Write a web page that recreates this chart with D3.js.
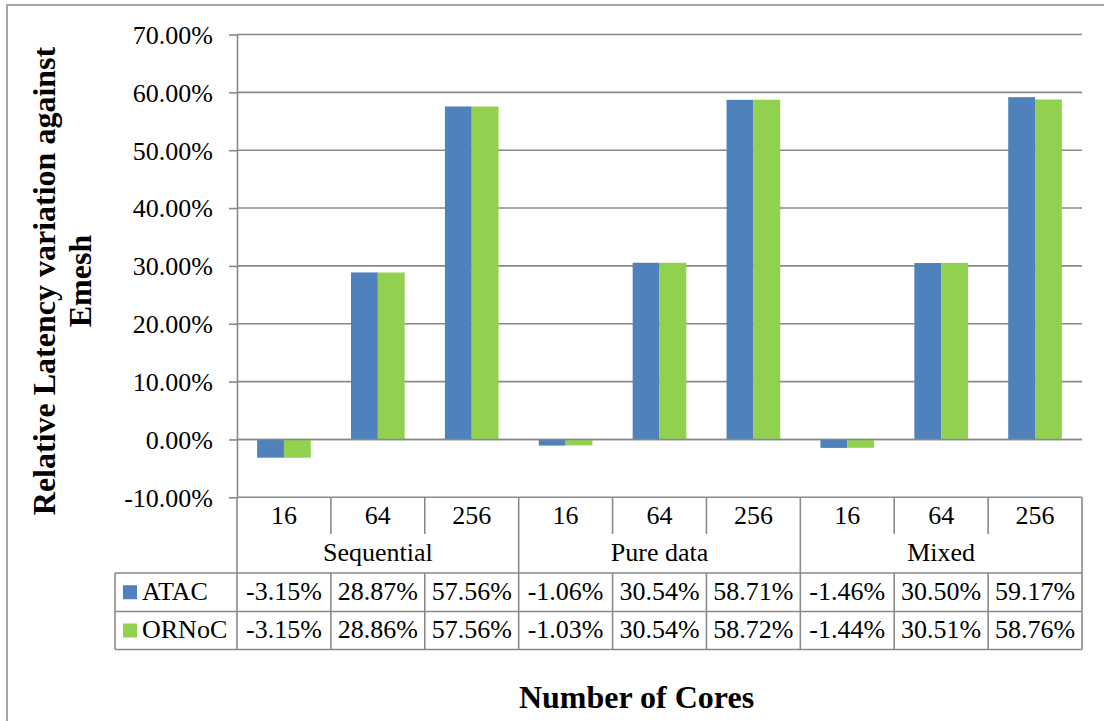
<!DOCTYPE html>
<html>
<head>
<meta charset="utf-8">
<script src="https://cdn.jsdelivr.net/npm/d3@7"></script>
<style>
  html, body { margin: 0; padding: 0; background: #fff; }
  svg { display: block; }
  text { font-family: "Liberation Serif", "Times New Roman", serif; fill: #000; }
</style>
</head>
<body>
<svg id="chart" width="1104" height="721"></svg>
<script>
// Workload groups and core counts along the category axis
const groups = ["Sequential", "Pure data", "Mixed"];
const cores = ["16", "64", "256"];
const seriesNames = ["ATAC", "ORNoC"];
const seriesColors = ["#4F81BD", "#92D050"];

// Relative latency variation against Emesh (%), one value per group/core pair
const atacValues  = [-3.15, 28.87, 57.56, -1.06, 30.54, 58.71, -1.46, 30.50, 59.17];
const ornocValues = [-3.15, 28.86, 57.56, -1.03, 30.54, 58.72, -1.44, 30.51, 58.76];

// Value-axis ticks
const yTicks = [-10, 0, 10, 20, 30, 40, 50, 60, 70];

const svg = d3.select("#chart");
const gridColor = "#898989";
const lineW = 1.6;

// Plot frame
const plotLeft = 237, plotRight = 1082, plotTop = 34.5, plotBottom = 497.3;
const tableLeft = 115;
const rowLines = [573, 611.5, 649.5];

// Category keys: one band per group/core combination
const keys = [];
groups.forEach((g, gi) => cores.forEach((c, ci) => keys.push({ key: g + "|" + c, group: g, core: c, idx: gi * 3 + ci })));
const values = [atacValues, ornocValues];

const x = d3.scaleBand().domain(keys.map(d => d.key)).range([plotLeft, plotRight]).paddingInner(0).paddingOuter(0);
const xs = d3.scaleBand().domain(seriesNames).range([0, x.bandwidth()]).paddingInner(0).paddingOuter(0.75);
const y = d3.scaleLinear().domain([-10, 70]).range([plotBottom, plotTop]);

// Outer chart border
svg.append("rect")
  .attr("x", 7).attr("y", 5).attr("width", 1110).attr("height", 730)
  .attr("fill", "none").attr("stroke", gridColor).attr("stroke-width", 1.5);

// Horizontal gridlines
svg.append("g").selectAll("line").data(yTicks).join("line")
  .attr("x1", plotLeft).attr("x2", plotRight)
  .attr("y1", d => y(d)).attr("y2", d => y(d))
  .attr("stroke", gridColor).attr("stroke-width", lineW);

// Value axis
const yAxis = d3.axisLeft(y)
  .tickValues(yTicks)
  .tickFormat(d => d.toFixed(2) + "%")
  .tickSizeInner(8).tickSizeOuter(0).tickPadding(16);
const yg = svg.append("g").attr("transform", `translate(${plotLeft},0)`).call(yAxis);
yg.attr("font-family", "Liberation Serif");
yg.select(".domain").attr("stroke", gridColor).attr("stroke-width", lineW);
yg.selectAll(".tick line").attr("stroke", gridColor).attr("stroke-width", lineW);
yg.selectAll(".tick text")
  .attr("font-size", 26).attr("fill", "#000").attr("dy", "0.34em");

// Bars
const barG = svg.append("g");
seriesNames.forEach((s, si) => {
  barG.append("g").selectAll("rect").data(keys).join("rect")
    .attr("x", d => x(d.key) + xs(s))
    .attr("width", xs.bandwidth())
    .attr("y", d => y(Math.max(0, values[si][d.idx])))
    .attr("height", d => Math.abs(y(values[si][d.idx]) - y(0)))
    .attr("fill", seriesColors[si]);
});

// Zero line over the bars
svg.append("line")
  .attr("x1", plotLeft).attr("x2", plotRight).attr("y1", y(0)).attr("y2", y(0))
  .attr("stroke", gridColor).attr("stroke-width", lineW);

// Category axis table: separators
const tbl = svg.append("g").attr("stroke", gridColor).attr("stroke-width", lineW);
const boundaries = d3.range(keys.length + 1).map(i => i < keys.length ? x(keys[i].key) : plotRight);
boundaries.forEach((bx, i) => {
  if (i % 3 === 0) {
    tbl.append("line").attr("x1", bx).attr("x2", bx).attr("y1", plotBottom).attr("y2", rowLines[2]);
  } else {
    tbl.append("line").attr("x1", bx).attr("x2", bx).attr("y1", plotBottom).attr("y2", 534);
    tbl.append("line").attr("x1", bx).attr("x2", bx).attr("y1", rowLines[0]).attr("y2", rowLines[2]);
  }
});
rowLines.forEach(ry => {
  tbl.append("line").attr("x1", tableLeft).attr("x2", plotRight).attr("y1", ry).attr("y2", ry);
});
tbl.append("line").attr("x1", tableLeft).attr("x2", tableLeft).attr("y1", rowLines[0]).attr("y2", rowLines[2]);

// Core count labels
svg.append("g").selectAll("text").data(keys).join("text")
  .attr("x", d => x(d.key) + x.bandwidth() / 2)
  .attr("y", 524)
  .attr("text-anchor", "middle")
  .attr("font-size", 26)
  .text(d => d.core);

// Group labels
svg.append("g").selectAll("text").data(groups).join("text")
  .attr("x", (g, gi) => (x(keys[gi * 3].key) + x(keys[gi * 3 + 2].key) + x.bandwidth()) / 2)
  .attr("y", 561)
  .attr("text-anchor", "middle")
  .attr("font-size", 26)
  .text(g => g);

// Data table rows with legend keys
const rowBaselines = [599.5, 638];
seriesNames.forEach((s, si) => {
  const rowTop = rowLines[si], rowBot = rowLines[si + 1];
  const mid = (rowTop + rowBot) / 2;
  svg.append("rect")
    .attr("x", 123).attr("y", mid - 7).attr("width", 14).attr("height", 14)
    .attr("fill", seriesColors[si]);
  svg.append("text")
    .attr("x", 142).attr("y", rowBaselines[si])
    .attr("font-size", 26)
    .text(s);
  svg.append("g").selectAll("text").data(keys).join("text")
    .attr("x", d => x(d.key) + x.bandwidth() / 2)
    .attr("y", rowBaselines[si])
    .attr("text-anchor", "middle")
    .attr("font-size", 26)
    .text(d => values[si][d.idx].toFixed(2) + "%");
});

// Axis titles
const yTitle = svg.append("text")
  .attr("transform", "translate(0,281) rotate(-90)")
  .attr("text-anchor", "middle")
  .attr("font-size", 32)
  .attr("font-weight", "bold");
yTitle.append("tspan").attr("x", 0).attr("y", 55).text("Relative Latency variation against");
yTitle.append("tspan").attr("x", 0).attr("y", 91).text("Emesh");

svg.append("text")
  .attr("x", 636.5).attr("y", 708)
  .attr("text-anchor", "middle")
  .attr("font-size", 32)
  .attr("font-weight", "bold")
  .text("Number of Cores");
</script>
</body>
</html>
